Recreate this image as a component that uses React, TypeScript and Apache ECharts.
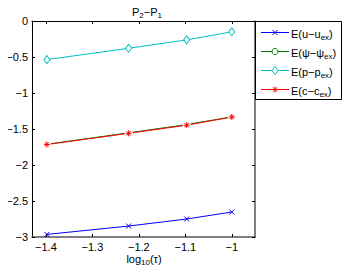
import React, { useEffect, useRef } from "react";
import * as echarts from "echarts";

const xValues = [-1.398, -1.222, -1.097, -1.0];
const errU = [-2.964, -2.848, -2.75, -2.653];
const errPsi = [-1.712, -1.553, -1.438, -1.331];
const errP = [-0.536, -0.379, -0.262, -0.15];
const errC = [-1.715, -1.56, -1.447, -1.334];
const xTicks = [-1.4, -1.3, -1.2, -1.1, -1];
const seriesNames = ["E(u-uex)", "E(psi-psiex)", "E(p-pex)", "E(c-cex)"];
const legendLabels = [
  "{a|E(u−u}{s|ex}{a|)}",
  "{a|E(ψ−ψ}{s|ex}{a|)}",
  "{a|E(p−p}{s|ex}{a|)}",
  "{a|E(c−c}{s|ex}{a|)}",
];
const colors = ["#0000ff", "#008000", "#00bfbf", "#ff0000"];

const FONT = "Liberation Sans, Arial, Helvetica, sans-serif";
const rich = {
  a: { fontSize: 11, fontFamily: FONT, color: "#000" },
  s: { fontSize: 8, fontFamily: FONT, color: "#000", padding: [7, 0, 0, 0] },
};

const fmtMinus = (v: number) => String(v).replace("-", "−");

function markerGraphic(i: number, cx: number, cy: number) {
  const c = colors[i];
  if (i === 0) {
    return [
      { type: "line", shape: { x1: cx - 2.5, y1: cy - 2.5, x2: cx + 2.5, y2: cy + 2.5 }, style: { stroke: c, lineWidth: 1 } },
      { type: "line", shape: { x1: cx + 2.5, y1: cy - 2.5, x2: cx - 2.5, y2: cy + 2.5 }, style: { stroke: c, lineWidth: 1 } },
    ];
  }
  if (i === 1) {
    return [{ type: "circle", shape: { cx, cy, r: 3 }, style: { fill: "#fff", stroke: c, lineWidth: 1 } }];
  }
  if (i === 2) {
    return [
      {
        type: "polygon",
        shape: { points: [[cx, cy - 4], [cx + 3, cy], [cx, cy + 4], [cx - 3, cy]] },
        style: { fill: "#fff", stroke: c, lineWidth: 1 },
      },
    ];
  }
  const r = 3;
  const d = 2.1;
  return [
    { type: "line", shape: { x1: cx - r, y1: cy, x2: cx + r, y2: cy }, style: { stroke: c, lineWidth: 1 } },
    { type: "line", shape: { x1: cx, y1: cy - r, x2: cx, y2: cy + r }, style: { stroke: c, lineWidth: 1 } },
    { type: "line", shape: { x1: cx - d, y1: cy - d, x2: cx + d, y2: cy + d }, style: { stroke: c, lineWidth: 1 } },
    { type: "line", shape: { x1: cx + d, y1: cy - d, x2: cx - d, y2: cy + d }, style: { stroke: c, lineWidth: 1 } },
  ];
}

export default function App() {
  const ref = useRef<HTMLDivElement>(null);
  useEffect(() => {
    if (!ref.current) return;
    const chart = echarts.init(ref.current, undefined, { renderer: "svg" });
    const pts = (ys: number[]) => xValues.map((x, i) => [x, ys[i]]);
    const mk = (name: string, ys: number[], color: string, symbol: string, size: any, fill: string) => ({
      name,
      type: "line",
      data: pts(ys),
      symbol,
      symbolSize: size,
      showSymbol: true,
      lineStyle: { color, width: 1, type: "solid" },
      itemStyle: { color: fill, borderColor: color, borderWidth: 1 },
      emphasis: { disabled: true },
    });

    const legendEls: any[] = [
      {
        type: "rect",
        shape: { x: 255.5, y: 21.5, width: 86, height: 78 },
        style: { fill: "#fff", stroke: "#000", lineWidth: 1 },
        z: 100,
      },
    ];
    legendLabels.forEach((lab, i) => {
      const cy = 32.5 + i * 19;
      legendEls.push({
        type: "line",
        shape: { x1: 261, y1: cy, x2: 289, y2: cy },
        style: { stroke: colors[i], lineWidth: 1 },
        z: 101,
      });
      markerGraphic(i, 275, cy).forEach((m) => legendEls.push({ ...m, z: 102 }));
      legendEls.push({
        type: "text",
        x: 291,
        y: cy + 1,
        z: 102,
        style: { text: lab, rich, align: "left", verticalAlign: "middle" },
      });
    });

    chart.setOption({
      animation: false,
      grid: { left: 32, top: 21, right: 99, bottom: 36, outerBoundsMode: "none" },
      graphic: [
        {
          type: "text",
          x: 147,
          y: 12,
          style: {
            text: "{a|P}{s|2}{a|−P}{s|1}",
            rich,
            align: "center",
            verticalAlign: "middle",
          },
        },
        {
          type: "text",
          x: 144,
          y: 259,
          style: {
            text: "{a|log}{s|10}{a|(τ)}",
            rich,
            align: "center",
            verticalAlign: "middle",
          },
        },
        ...legendEls,
      ],
      xAxis: [
        {
          type: "value",
          min: -1.43,
          max: -0.95,
          position: "bottom",
          axisLine: { onZero: false, lineStyle: { color: "#555", width: 1.5 } },
          axisTick: { inside: true, length: 3, customValues: xTicks, lineStyle: { color: "#000" } },
          axisLabel: {
            customValues: xTicks,
            formatter: (v: number) => fmtMinus(v),
            fontSize: 11,
            fontFamily: FONT,
            color: "#000",
            margin: 4,
          },
          splitLine: { show: false },
        },
        {
          type: "value",
          min: -1.43,
          max: -0.95,
          position: "top",
          axisLine: { onZero: false, lineStyle: { color: "#000", width: 1 } },
          axisTick: { inside: true, length: 3, customValues: xTicks, lineStyle: { color: "#000" } },
          axisLabel: { show: false },
          splitLine: { show: false },
        },
      ],
      yAxis: [
        {
          type: "value",
          min: -3,
          max: 0,
          interval: 0.5,
          position: "left",
          axisLine: { show: true, onZero: false, lineStyle: { color: "#000", width: 1 } },
          axisTick: { show: true, inside: true, length: 3, lineStyle: { color: "#000" } },
          axisLabel: {
            formatter: (v: number) => fmtMinus(v),
            fontSize: 11,
            fontFamily: FONT,
            color: "#000",
            margin: 4,
          },
          splitLine: { show: false },
        },
        {
          type: "value",
          min: -3,
          max: 0,
          interval: 0.5,
          position: "right",
          axisLine: { show: true, onZero: false, lineStyle: { color: "#555", width: 1.5 } },
          axisTick: { show: true, inside: true, length: 3, lineStyle: { color: "#000" } },
          axisLabel: { show: false },
          splitLine: { show: false },
        },
      ],
      series: [
        mk(seriesNames[0], errU, colors[0], "path://M0,0L10,10M10,0L0,10", 5, "none"),
        mk(seriesNames[1], errPsi, colors[1], "emptyCircle", 6, "#fff"),
        mk(seriesNames[2], errP, colors[2], "path://M5,0L10,5L5,10L0,5Z", [6, 8], "#fff"),
        mk(seriesNames[3], errC, colors[3], "path://M5,0L5,10M0,5L10,5M1.5,1.5L8.5,8.5M8.5,1.5L1.5,8.5", 6, "#ff0000"),
      ],
    });
    return () => chart.dispose();
  }, []);
  return <div ref={ref} style={{ width: 354, height: 273, margin: -8 }} />;
}
